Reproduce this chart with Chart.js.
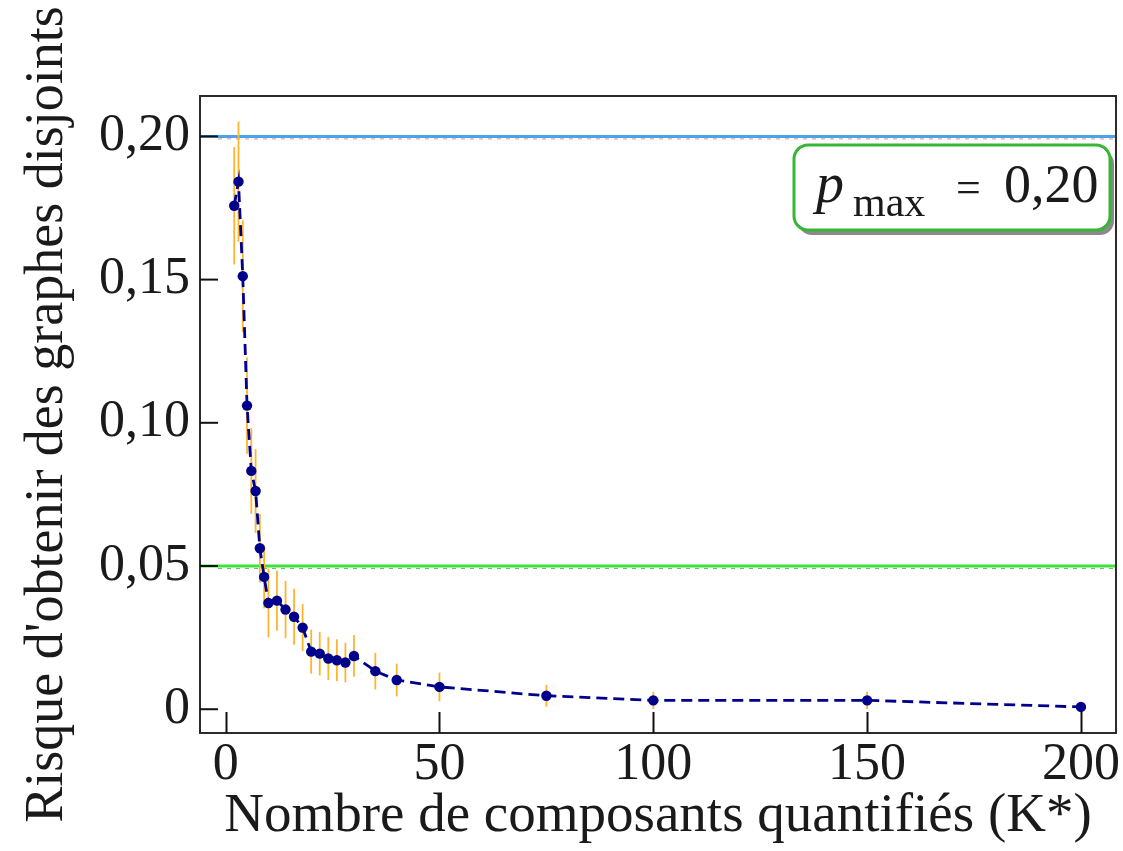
<!DOCTYPE html>
<html lang="fr">
<head>
    <meta charset="UTF-8">
    <title>Risque d'obtenir des graphes disjoints</title>
    <script src="https://cdn.jsdelivr.net/npm/chart.js"></script>
    <style>
        body {
            margin: 0;
            background: #fff;
        }
        .chart-box {
            width: 1123px;
            height: 851px;
        }
    </style>
</head>
<body>
    <div class="chart-box">
        <canvas id="riskChart"></canvas>
    </div>

    <script>
        // K* values and the measured risk, with its error half-width
        const kValues = [2, 3, 4, 5, 6, 7, 8, 9, 10, 12, 14, 16, 18, 20, 22, 24, 26, 28, 30, 35, 40, 50, 75, 100, 150, 200];
        const riskValues = [0.1758, 0.1842, 0.1512, 0.1060, 0.0832, 0.0762, 0.0562, 0.0462, 0.0371, 0.0379, 0.0348, 0.0323, 0.0285,
            0.0201, 0.0194, 0.0177, 0.0171, 0.0163, 0.0186, 0.0133, 0.0102, 0.0078, 0.0047, 0.0031, 0.0031, 0.0008];
        const riskErrors = [0.0205, 0.0210, 0.0195, 0.0168, 0.0150, 0.0146, 0.0120, 0.0110, 0.0120, 0.0105, 0.0100, 0.0098, 0.0082,
            0.0077, 0.0076, 0.0075, 0.0073, 0.0069, 0.0073, 0.0064, 0.0057, 0.0050, 0.0038, 0.0030, 0.0030, 0.0005];

        // reference levels
        const pMax = 0.20;
        const alphaLevel = 0.05;

        // axes
        const xRange = [-6, 208.2];
        const yRange = [-0.0083, 0.2141];
        const xTicks = [0, 50, 100, 150, 200];
        const yTicks = [0, 0.05, 0.10, 0.15, 0.20];
        const yTickLabels = ['0', '0,05', '0,10', '0,15', '0,20'];

        const FONT = '"Liberation Serif", "Times New Roman", serif';
        const TEXT = '#1a1a1a';

        // horizontal lines + error bars, under the series
        const underlayPlugin = {
            id: 'underlay',
            beforeDatasetsDraw(chart) {
                const ctx = chart.ctx;
                const area = chart.chartArea;
                const x = chart.scales.x;
                const y = chart.scales.y;
                ctx.save();
                ctx.beginPath();
                ctx.rect(area.left, area.top, area.right - area.left, area.bottom - area.top);
                ctx.clip();

                const refLine = (val, color, dashColor) => {
                    const py = y.getPixelForValue(val);
                    ctx.setLineDash([]);
                    ctx.strokeStyle = color;
                    ctx.lineWidth = 3;
                    ctx.beginPath();
                    ctx.moveTo(area.left, py);
                    ctx.lineTo(area.right, py);
                    ctx.stroke();
                    ctx.setLineDash([4, 5]);
                    ctx.strokeStyle = dashColor;
                    ctx.lineWidth = 1;
                    ctx.beginPath();
                    ctx.moveTo(area.left + 18, py + 2.5);
                    ctx.lineTo(area.right, py + 2.5);
                    ctx.stroke();
                };
                refLine(pMax, '#4da3e8', '#e88a8a');
                refLine(alphaLevel, '#3ee23e', '#5cc85c');

                // error bars
                ctx.setLineDash([]);
                ctx.strokeStyle = '#ffb42e';
                ctx.lineWidth = 1.8;
                kValues.forEach((k, i) => {
                    const px = x.getPixelForValue(k);
                    ctx.beginPath();
                    ctx.moveTo(px, y.getPixelForValue(riskValues[i] - riskErrors[i]));
                    ctx.lineTo(px, y.getPixelForValue(riskValues[i] + riskErrors[i]));
                    ctx.stroke();
                });
                ctx.restore();
            }
        };

        // frame, inward ticks, p_max box
        const overlayPlugin = {
            id: 'overlay',
            afterDraw(chart) {
                const ctx = chart.ctx;
                const area = chart.chartArea;
                const x = chart.scales.x;
                const y = chart.scales.y;
                ctx.save();
                ctx.strokeStyle = '#2b2b2b';
                ctx.lineWidth = 2;
                ctx.strokeRect(area.left, area.top, area.right - area.left, area.bottom - area.top);

                ctx.lineWidth = 2;
                ctx.strokeStyle = '#111';
                xTicks.forEach(v => {
                    const px = Math.round(x.getPixelForValue(v)) + 0.5;
                    ctx.beginPath();
                    ctx.moveTo(px, area.bottom);
                    ctx.lineTo(px, area.bottom - 21);
                    ctx.stroke();
                });
                yTicks.forEach(v => {
                    const py = y.getPixelForValue(v);
                    ctx.beginPath();
                    ctx.moveTo(area.left, py);
                    ctx.lineTo(area.left + 18, py);
                    ctx.stroke();
                });

                // legend box
                const bx = area.right - 322, by = area.top + 49, bw = 316, bh = 85, r = 14;
                const roundRect = (x0, y0) => {
                    ctx.beginPath();
                    ctx.moveTo(x0 + r, y0);
                    ctx.arcTo(x0 + bw, y0, x0 + bw, y0 + bh, r);
                    ctx.arcTo(x0 + bw, y0 + bh, x0, y0 + bh, r);
                    ctx.arcTo(x0, y0 + bh, x0, y0, r);
                    ctx.arcTo(x0, y0, x0 + bw, y0, r);
                    ctx.closePath();
                };
                ctx.fillStyle = '#8a8a8a';
                roundRect(bx + 4, by + 5);
                ctx.fill();
                ctx.fillStyle = '#fff';
                roundRect(bx, by);
                ctx.fill();
                ctx.strokeStyle = '#37b537';
                ctx.lineWidth = 3;
                ctx.stroke();

                ctx.fillStyle = TEXT;
                ctx.textBaseline = 'alphabetic';
                ctx.textAlign = 'left';
                ctx.font = 'italic 56px ' + FONT;
                ctx.fillText('p', bx + 22, by + 57);
                ctx.font = '42px ' + FONT;
                ctx.fillText('max', bx + 59, by + 71);
                ctx.font = '44px ' + FONT;
                ctx.fillText('=', bx + 162, by + 57);
                ctx.font = '54px ' + FONT;
                ctx.fillText('0,20', bx + 210, by + 57);
                ctx.restore();
            }
        };

        function renderChart() {
            const ctx = document.getElementById('riskChart').getContext('2d');
            new Chart(ctx, {
                type: 'line',
                data: {
                    datasets: [{
                        label: 'Risque',
                        data: kValues.map((k, i) => ({ x: k, y: riskValues[i] })),
                        borderColor: '#00008b',
                        backgroundColor: '#00008b',
                        borderWidth: 2.8,
                        borderDash: [11, 6],
                        pointRadius: 5.2,
                        pointBorderWidth: 0,
                        tension: 0,
                        fill: false
                    }]
                },
                options: {
                    responsive: true,
                    maintainAspectRatio: false,
                    animation: false,
                    layout: { padding: { top: 96, right: 7, left: 0, bottom: 0 } },
                    plugins: {
                        legend: { display: false },
                        tooltip: { enabled: false }
                    },
                    scales: {
                        x: {
                            type: 'linear',
                            min: xRange[0],
                            max: xRange[1],
                            grid: { display: false, drawTicks: false },
                            border: { display: false },
                            afterBuildTicks: scale => { scale.ticks = xTicks.map(v => ({ value: v })); },
                            afterFit: scale => { scale.height = 118; },
                            ticks: {
                                padding: 1,
                                color: TEXT,
                                font: { family: FONT, size: 52 },
                                callback: v => String(v)
                            },
                            title: {
                                display: true,
                                text: 'Nombre de composants quantifiés (K*)',
                                color: TEXT,
                                font: { family: FONT, size: 55 },
                                padding: { top: 0, bottom: 1 }
                            }
                        },
                        y: {
                            type: 'linear',
                            min: yRange[0],
                            max: yRange[1],
                            grid: { display: false, drawTicks: false },
                            border: { display: false },
                            afterBuildTicks: scale => { scale.ticks = yTicks.map(v => ({ value: v })); },
                            afterFit: scale => { scale.width = 200; },
                            ticks: {
                                padding: 10,
                                color: TEXT,
                                font: { family: FONT, size: 52 },
                                callback: (v, i) => yTickLabels[i]
                            },
                            title: {
                                display: true,
                                text: "Risque d'obtenir des graphes disjoints",
                                color: TEXT,
                                font: { family: FONT, size: 54 },
                                padding: { top: 15, bottom: 0 }
                            }
                        }
                    }
                },
                plugins: [underlayPlugin, overlayPlugin]
            });
        }

        window.onload = renderChart;
    </script>
</body>
</html>
